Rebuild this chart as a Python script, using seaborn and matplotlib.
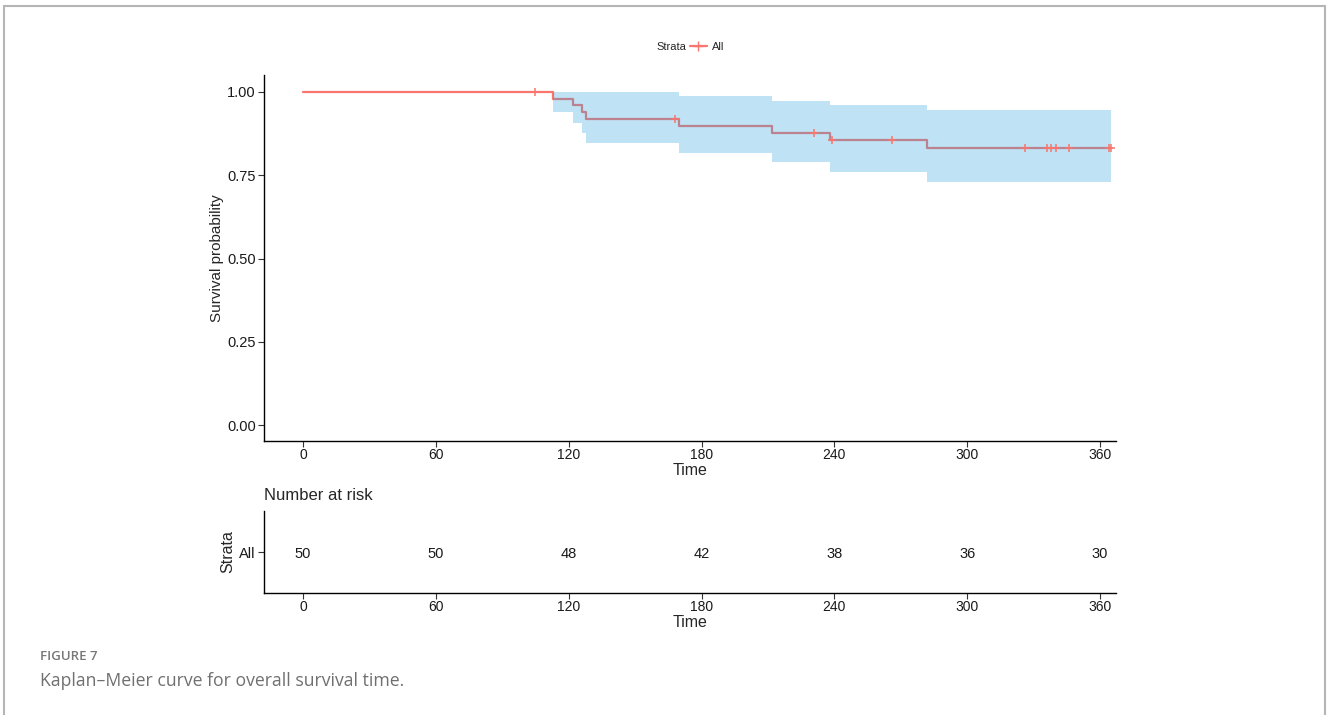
import numpy as np
import pandas as pd
import seaborn as sns
import matplotlib.pyplot as plt
from matplotlib.lines import Line2D

# Kaplan-Meier estimate
event_times = [113, 122, 126, 128, 170, 212, 238, 282]
surv = [0.98, 0.96, 0.94, 0.919, 0.898, 0.877, 0.856, 0.832]
upper = [1.0, 1.0, 1.0, 1.0, 0.989, 0.974, 0.960, 0.946]
lower = [0.941, 0.906, 0.876, 0.846, 0.818, 0.789, 0.761, 0.731]
end_time = 365
censor_times = [105, 168, 231, 239, 266, 326, 336, 338, 340, 346, 364, 365]

risk_times = [0, 60, 120, 180, 240, 300, 360]
n_risk = [50, 50, 48, 42, 38, 36, 30]

line_col = '#F8766D'
band_col = '#2E9FDF'

sns.set_theme(style='ticks')
plt.rcParams['font.family'] = ['Liberation Sans', 'DejaVu Sans']

km = pd.DataFrame({
    'time': [0] + event_times + [end_time],
    'surv': [1.0] + surv + [surv[-1]],
    'upper': [1.0] + upper + [upper[-1]],
    'lower': [1.0] + lower + [lower[-1]],
})
idx = np.searchsorted(km['time'].values, censor_times, side='right') - 1
cens = pd.DataFrame({'time': censor_times, 'surv': km['surv'].values[idx]})

fig = plt.figure(figsize=(13.28, 7.15), dpi=100)
ax = fig.add_axes([0.1988, 0.3832, 0.6416, 0.5119])
ax_r = fig.add_axes([0.1988, 0.1706, 0.6416, 0.1147])

sns.lineplot(data=km, x='time', y='surv', drawstyle='steps-post', estimator=None,
             sort=False, color=line_col, linewidth=1.6, ax=ax, zorder=2)
ax.fill_between(km['time'], km['lower'], km['upper'], step='post',
                color=band_col, alpha=0.3, linewidth=0, zorder=3)
sns.scatterplot(data=cens, x='time', y='surv', marker='+', s=40, color=line_col,
                linewidth=1.1, ax=ax, zorder=4, legend=False)

ticks = [0, 60, 120, 180, 240, 300, 360]
for a in (ax, ax_r):
    a.set_xlim(-17.6, 367.2)
    a.set_xticks(ticks)
    a.set_xticklabels([str(t) for t in ticks], fontsize=10, color='#1a1a1a')
    a.set_xlabel('Time', fontsize=11.5, labelpad=1)
    a.tick_params(axis='both', length=4, width=0.8, colors='#333333', labelcolor='#1a1a1a', pad=2)
    a.tick_params(axis='x', pad=1)
    for s in ('top', 'right'):
        a.spines[s].set_visible(False)
    for s in ('left', 'bottom'):
        a.spines[s].set_linewidth(1.0)
        a.spines[s].set_color('black')

ax.set_ylim(-0.048, 1.051)
ax.set_yticks([0, 0.25, 0.5, 0.75, 1.0])
ax.set_yticklabels(['0.00', '0.25', '0.50', '0.75', '1.00'], fontsize=10.5)
ax.set_ylabel('Survival probability', fontsize=11, labelpad=2)

# risk table
ax_r.set_ylim(0, 1)
ax_r.set_yticks([0.5])
ax_r.set_yticklabels(['All'], fontsize=10.5)
ax_r.set_ylabel('Strata', fontsize=11.5, labelpad=3)
for t, n in zip(risk_times, n_risk):
    ax_r.text(t, 0.5, str(n), ha='center', va='center_baseline', fontsize=10.5, color='#1a1a1a')
ax_r.set_title('Number at risk', loc='left', fontsize=12, pad=8)

# legend at top
fig.text(656 / 1328, 1 - 47 / 715, 'Strata', fontsize=8, va='center', ha='left')
handle = Line2D([], [], color=line_col, marker='+', markersize=7, linewidth=1.6)
fig.legend([handle], ['All'], loc='center left', bbox_to_anchor=(684 / 1328, 1 - 47 / 715),
           frameon=False, fontsize=8, handlelength=1.6, handletextpad=0.4, borderpad=0)

# caption
fig.text(40 / 1328, 1 - 657 / 715, 'FIGURE 7', fontsize=9.5, color='#777777',
         fontweight='semibold', va='center', family=['Open Sans', 'DejaVu Sans'])
fig.text(40 / 1328, 1 - 681 / 715, 'Kaplan\u2013Meier curve for overall survival time.',
         fontsize=12.7, color='#707070', va='center', family=['Open Sans', 'DejaVu Sans'])

# page frame
fc = '#b5b5b5'
fig.add_artist(Line2D([4 / 1328, 4 / 1328], [0, 1 - 6 / 715], color=fc, lw=1.5))
fig.add_artist(Line2D([4 / 1328, 1325 / 1328], [1 - 6 / 715, 1 - 6 / 715], color=fc, lw=1.5))
fig.add_artist(Line2D([1325 / 1328, 1325 / 1328], [0, 1 - 6 / 715], color=fc, lw=1.5))

fig.savefig('out.png', dpi=100)
